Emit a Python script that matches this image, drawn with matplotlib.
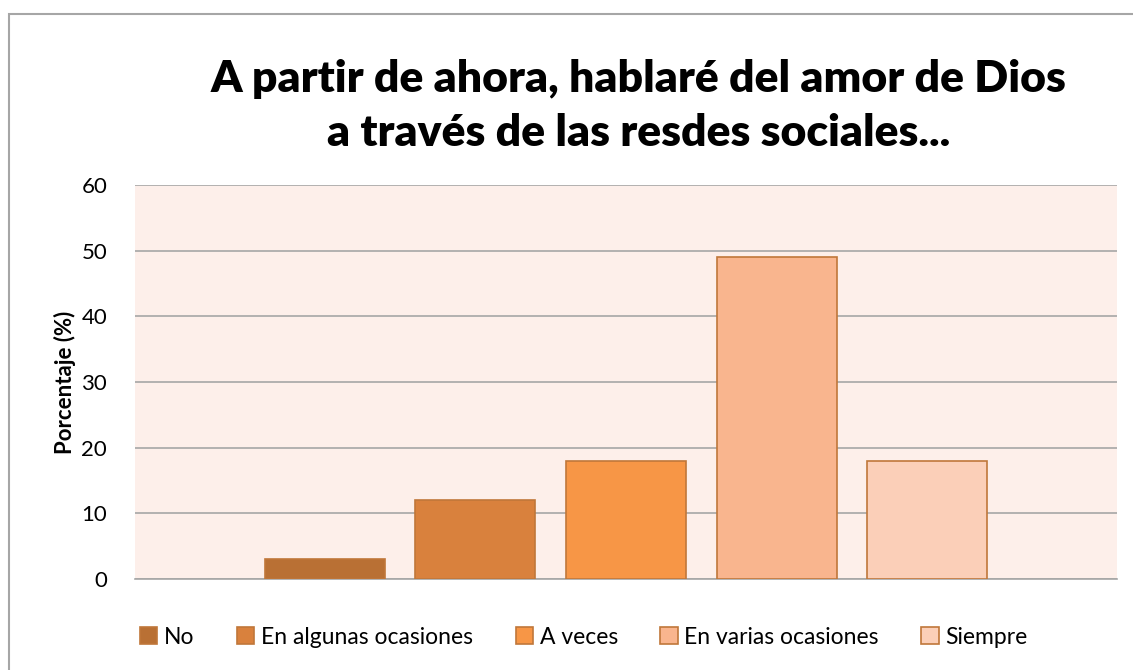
import matplotlib
matplotlib.use("Agg")
import matplotlib.pyplot as plt
from matplotlib.patches import Rectangle

categories = ["No", "En algunas ocasiones", "A veces", "En varias ocasiones", "Siempre"]
values = [3, 12, 18, 49, 18]
colors = ["#B97034", "#D9813D", "#F79646", "#F9B58E", "#FBCFB8"]
edge = "#C0773A"
title = "A partir de ahora, hablaré del amor de Dios\na través de las resdes sociales..."
ylabel = "Porcentaje (%)"
yticks = [0, 10, 20, 30, 40, 50, 60]

W, H = 1133, 670
fig = plt.figure(figsize=(W/100, H/100), dpi=100)
plt.rcParams['font.family'] = ['Lato', 'DejaVu Sans']

# outer border
fig.patches.append(Rectangle((9/W, -0.5), 1.5, 1.5 - 14/H, transform=fig.transFigure,
                             fill=False, edgecolor="#A6A6A6", linewidth=1.5))

ax = fig.add_axes([135/W, 1 - 579/H, (1117-135)/W, (579-185)/H])
ax.set_facecolor("#FDEFEA")
slot = 150.7/982
width = 120/982
handles = []
for i, (c, v, col) in enumerate(zip(categories, values, colors)):
    x = (i - 2) * slot
    b = ax.bar(x, v, width=width, color=col, edgecolor=edge, linewidth=1.2, label=c, zorder=3)
    handles.append(b)
ax.set_xlim(-0.5, 0.5)
ax.set_ylim(0, 60)
ax.set_yticks(yticks)
ax.set_xticks([])
ax.grid(axis="y", color="#A6A6A6", linewidth=1.2, zorder=0)
for s in ["top", "right", "left"]:
    ax.spines[s].set_visible(False)
ax.spines["bottom"].set_color("#A6A6A6")
ax.spines["bottom"].set_linewidth(1.2)
ax.tick_params(axis="y", length=0, labelsize=16, pad=20)
ax.set_ylabel(ylabel, fontsize=16, fontweight="bold", labelpad=4)

fig.text(639/W, 1 - 106/H, title, ha="center", va="center", fontsize=32,
         fontweight="heavy", linespacing=1.42)

leg = fig.legend(handles=handles, labels=categories, loc="center", bbox_to_anchor=(584/W, 1 - 637/H),
                 ncol=5, frameon=False, fontsize=16.5, handlelength=0.75, handleheight=0.75,
                 handletextpad=0.3, columnspacing=1.85)

fig.savefig("out.png", dpi=100)
